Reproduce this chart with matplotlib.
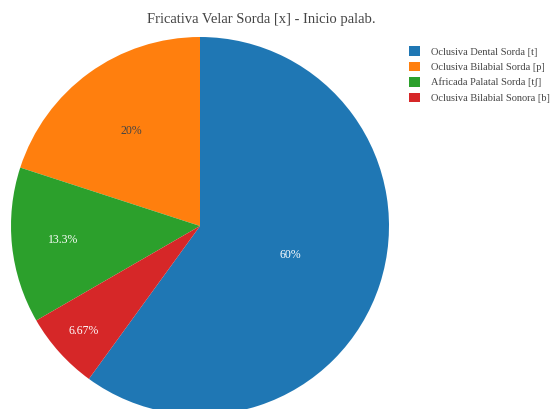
import matplotlib.pyplot as plt
import numpy as np

labels = ['Oclusiva Dental Sorda [t]', 'Oclusiva Bilabial Sorda [p]',
          'Africada Palatal Sorda [tʃ]', 'Oclusiva Bilabial Sonora [b]']
counts = [9, 3, 2, 1]
colors = ['#1f77b4', '#ff7f0e', '#2ca02c', '#d62728']
text_colors = ['white', '#444444', 'white', 'white']
label_dist = [0.50, 0.62, 0.73, 0.83]

plt.rcParams['font.family'] = ['Liberation Serif', 'DejaVu Serif']

fig = plt.figure(figsize=(5.5, 4.09), dpi=100)
# pie axes: centre at (200, 226) px, radius 189 px
ax = fig.add_axes([11 / 550, (183 - 189) / 409, 378 / 550, 378 / 409])
wedges, _ = ax.pie(counts, colors=colors, startangle=-126, counterclock=True,
                   radius=1, wedgeprops=dict(linewidth=0))
ax.set_xlim(-1, 1)
ax.set_ylim(-1, 1)
ax.set_aspect('equal')

total = sum(counts)
for w, c, tc, d in zip(wedges, counts, text_colors, label_dist):
    mid = np.deg2rad((w.theta1 + w.theta2) / 2)
    pct = 100 * c / total
    txt = f'{pct:.3g}%'
    ax.text(d * np.cos(mid), d * np.sin(mid), txt, ha='center', va='center',
            color=tc, fontsize=8.5)

fig.text(261 / 550, 1 - 20 / 409, 'Fricativa Velar Sorda [x] - Inicio palab.',
         ha='center', va='center', fontsize=10.5, color='#444444')

fig.legend(wedges, labels, loc='upper left', bbox_to_anchor=(400 / 550, 1 - 37 / 409),
           frameon=False, fontsize=7.5, handlelength=1.0, handleheight=1.0,
           handletextpad=1.1, labelspacing=0.5, labelcolor='#444444')

fig.savefig('out.png', dpi=100)
